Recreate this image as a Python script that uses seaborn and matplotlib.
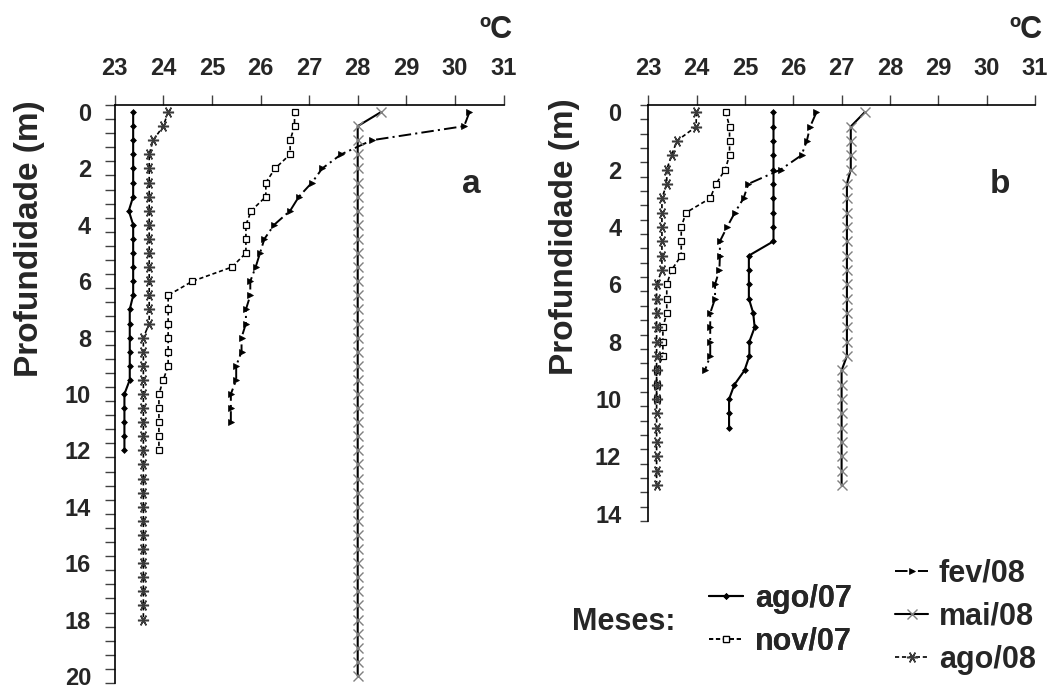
import matplotlib
matplotlib.use("Agg")
import matplotlib.pyplot as plt
from matplotlib.ticker import FixedLocator, NullFormatter
import seaborn as sns

# ---------------- data ----------------
depth_m = [0, 0.5, 1, 1.5, 2, 2.5, 3, 3.5, 4, 4.5, 5, 5.5, 6, 6.5, 7, 7.5,
           8, 8.5, 9, 9.5, 10, 10.5, 11, 11.5, 12, 12.5, 13, 13.5, 14, 14.5,
           15, 15.5, 16, 16.5, 17, 17.5, 18, 18.5, 19, 19.5, 20]

temp_ticks = [23, 24, 25, 26, 27, 28, 29, 30, 31]
depth_labels_a = [0, 2, 4, 6, 8, 10, 12, 14, 16, 18, 20]
depth_labels_b = [0, 2, 4, 6, 8, 10, 12, 14]

months = ["ago/07", "nov/07", "fev/08", "mai/08", "ago/08"]

# panel a
a_ago07 = [23.38, 23.38, 23.38, 23.38, 23.38, 23.38, 23.38, 23.29, 23.38, 23.38,
           23.38, 23.38, 23.38, 23.38, 23.31, 23.31, 23.31, 23.31, 23.31, 23.31,
           23.20, 23.20, 23.20, 23.20, 23.20]
a_nov07 = [26.70, 26.70, 26.61, 26.61, 26.30, 26.11, 26.11, 25.81, 25.70, 25.70,
           25.70, 25.41, 24.60, 24.10, 24.10, 24.10, 24.10, 24.10, 24.10, 24.00,
           23.91, 23.91, 23.91, 23.91, 23.91]
a_fev08 = [30.30, 30.19, 28.29, 27.66, 27.27, 27.06, 26.79, 26.61, 26.28, 26.08,
           25.99, 25.90, 25.79, 25.79, 25.70, 25.70, 25.61, 25.61, 25.50, 25.50,
           25.39, 25.39, 25.39]
a_mai08 = [28.48, 28.00, 28.00, 28.00, 28.00, 28.00, 28.00, 28.00, 28.00, 28.00,
           28.00, 28.00, 28.00, 28.00, 28.00, 28.00, 28.00, 28.00, 28.00, 28.00,
           28.00, 28.00, 28.00, 28.00, 28.00, 28.00, 28.00, 28.00, 28.00, 28.00,
           28.00, 28.00, 28.00, 28.00, 28.00, 28.00, 28.00, 28.00, 28.00, 28.00,
           28.00]
a_ago08 = [24.10, 24.00, 23.79, 23.71, 23.71, 23.71, 23.71, 23.71, 23.71, 23.71,
           23.71, 23.71, 23.71, 23.71, 23.71, 23.71, 23.59, 23.59, 23.59, 23.59,
           23.59, 23.59, 23.59, 23.59, 23.59, 23.59, 23.59, 23.59, 23.59, 23.59,
           23.59, 23.59, 23.59, 23.59, 23.59, 23.59, 23.59]

# panel b
b_ago07 = [25.59, 25.59, 25.59, 25.59, 25.59, 25.59, 25.59, 25.59, 25.59, 25.59,
           25.08, 25.08, 25.08, 25.08, 25.17, 25.20, 25.09, 25.09, 24.99, 24.78,
           24.67, 24.67, 24.67]
b_nov07 = [24.60, 24.68, 24.68, 24.68, 24.59, 24.40, 24.28, 23.78, 23.68, 23.68,
           23.68, 23.48, 23.38, 23.38, 23.38, 23.30, 23.30, 23.30, 23.17, 23.17,
           23.17]
b_fev08 = [26.48, 26.35, 26.28, 26.17, 25.74, 25.07, 24.97, 24.79, 24.63, 24.48,
           24.48, 24.47, 24.38, 24.38, 24.28, 24.28, 24.28, 24.28, 24.17]
b_mai08 = [27.48, 27.19, 27.19, 27.19, 27.19, 27.11, 27.11, 27.11, 27.11, 27.11,
           27.11, 27.11, 27.11, 27.11, 27.11, 27.11, 27.11, 27.11, 27.00, 27.00,
           27.00, 27.00, 27.00, 27.00, 27.00, 27.00, 27.00]
b_ago08 = [23.99, 23.99, 23.59, 23.48, 23.38, 23.38, 23.28, 23.28, 23.28, 23.28,
           23.28, 23.28, 23.17, 23.17, 23.17, 23.17, 23.17, 23.17, 23.17, 23.17,
           23.17, 23.17, 23.17, 23.17, 23.17, 23.17, 23.17]

panel_a = [a_ago07, a_nov07, a_fev08, a_mai08, a_ago08]
panel_b = [b_ago07, b_nov07, b_fev08, b_mai08, b_ago08]

# ---------------- style ----------------
sns.set_theme(style="white")
plt.rcParams["font.family"] = ["Liberation Sans", "DejaVu Sans"]
plt.rcParams["font.weight"] = "bold"
plt.rcParams["lines.scale_dashes"] = False

line_styles = {
    "ago/07": dict(linestyle="-", linewidth=1.5, marker="D", markersize=3,
                   markerfacecolor="black", markeredgecolor="black", markeredgewidth=0.5),
    "nov/07": dict(linestyle=(0, (3, 2)), linewidth=1.2, marker="s", markersize=4.5,
                   markerfacecolor="white", markeredgecolor="black", markeredgewidth=0.9),
    "fev/08": dict(linestyle=(0, (9, 3, 1.5, 3)), linewidth=1.4, marker=">", markersize=5,
                   markerfacecolor="black", markeredgecolor="black", markeredgewidth=0.5),
    "mai/08": dict(linestyle="-", linewidth=1.5, marker="x", markersize=7,
                   markeredgecolor="#808080", markeredgewidth=1.0),
    "ago/08": dict(linestyle=(0, (3, 2)), linewidth=1.2, marker=(6, 2, 90), markersize=8,
                   markeredgecolor="#3a3a3a", markeredgewidth=1.1),
}

W, H = 1049, 688
fig = plt.figure(figsize=(W / 100, H / 100), dpi=100)
fig.patch.set_facecolor("white")

axA = fig.add_axes([114.7 / W, 1 - 683 / H, (503.5 - 114.7) / W, (683 - 105) / H])
axB = fig.add_axes([648.4 / W, 1 - 521 / H, (1034.8 - 648.4) / W, (521 - 105) / H])


def draw_panel(ax, series, ymax, ylabels, tick_len, ypad):
    for name, vals in zip(months, series):
        sns.lineplot(x=vals, y=depth_m[:len(vals)], ax=ax, sort=False,
                     estimator=None, color="black", label=name, legend=False,
                     **line_styles[name])
    ax.set_xlim(23, 31)
    ax.set_ylim(ymax, -0.25)
    ax.set_facecolor("white")
    for s in ("right", "bottom"):
        ax.spines[s].set_visible(False)
    for s in ("left", "top"):
        ax.spines[s].set_color("black")
        ax.spines[s].set_linewidth(1.2)
    ax.xaxis.tick_top()
    ax.set_xticks(temp_ticks)
    ax.set_xticklabels([str(t) for t in temp_ticks])
    ax.tick_params(axis="x", which="major", direction="out", length=7,
                   width=1.0, color="#404040", pad=11, labelsize=17)
    ax.set_yticks(ylabels)
    ax.set_yticklabels([str(t) for t in ylabels])
    minor = [-0.25 + 0.5 * k for k in range(int((ymax + 0.25) / 0.5) + 1)]
    ax.yaxis.set_minor_locator(FixedLocator(minor))
    ax.yaxis.set_minor_formatter(NullFormatter())
    ax.tick_params(axis="y", which="major", length=0, pad=ypad, labelsize=17)
    ax.tick_params(axis="y", which="minor", left=True, direction="out",
                   length=tick_len, width=1.0, color="#404040")
    ax.set_xlabel("")
    ax.set_ylabel("Profundidade (m)", fontsize=24, fontweight="bold",
                  va="center", ha="center")


draw_panel(axA, panel_a, 20.25, depth_labels_a, 7, 17)
draw_panel(axB, panel_b, 14.25, depth_labels_b, 6, 19.5)

axA.yaxis.set_label_coords((30 - 114.7) / 388.8, (683 - 239) / 578)
axB.yaxis.set_label_coords((565 - 648.4) / 386.4, (521 - 237) / 416)

# units and panel letters
fig.text(512 / W, 1 - 38 / H, "ºC", ha="right", va="baseline", fontsize=22, fontweight="bold")
fig.text(1043 / W, 1 - 38 / H, "ºC", ha="right", va="baseline", fontsize=22, fontweight="bold")
fig.text(471 / W, 1 - 193 / H, "a", ha="center", va="baseline", fontsize=24, fontweight="bold")
fig.text(1000 / W, 1 - 193 / H, "b", ha="center", va="baseline", fontsize=24, fontweight="bold")

# legend
handles, labels = axA.get_legend_handles_labels()
hmap = dict(zip(labels, handles))
fig.text(571.7 / W, 1 - 630 / H, "Meses:", ha="left", va="baseline", fontsize=22, fontweight="bold")
leg1 = fig.legend([hmap["ago/07"], hmap["nov/07"]], ["ago/07", "nov/07"],
                  loc="upper left", bbox_to_anchor=(709 / W, 1 - 584 / H),
                  frameon=False, borderpad=0, borderaxespad=0, handlelength=1.1,
                  handletextpad=0.4, labelspacing=0.42, numpoints=1,
                  prop=dict(size=22, weight="bold"))
leg2 = fig.legend([hmap["fev/08"], hmap["mai/08"], hmap["ago/08"]], ["fev/08", "mai/08", "ago/08"],
                  loc="upper left", bbox_to_anchor=(895 / W, 1 - 559 / H),
                  frameon=False, borderpad=0, borderaxespad=0, handlelength=1.08,
                  handletextpad=0.35, labelspacing=0.42, numpoints=1,
                  prop=dict(size=22, weight="bold"))
fig.add_artist(leg1)

fig.savefig("out.png", dpi=100, facecolor="white")
